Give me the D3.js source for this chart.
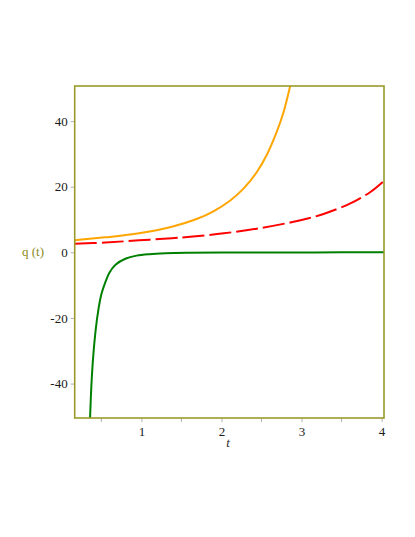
<!DOCTYPE html>
<html>
<head>
<meta charset="utf-8">
<script src="https://cdn.jsdelivr.net/npm/d3@7"></script>
<style>
  body { margin: 0; background: #fff; }
  svg { display: block; }
  svg text { font-family: "Liberation Serif", "Times New Roman", "DejaVu Serif", serif; }
</style>
</head>
<body>
<div id="chart-area"></div>
<script>
// values
const tTicks = [1, 2, 3, 4];
const tMinorTicks = [0.5, 1.5, 2.5, 3.5];
const qTicks = [-40, -20, 0, 20, 40];
const qTickLabels = ["-40", "-20", "0", "20", "40"];

const greenT = [0.359, 0.37, 0.38, 0.40, 0.43, 0.46, 0.50, 0.55, 0.60, 0.68, 0.80, 0.94, 1.1, 1.3, 1.6, 2.0, 2.5, 3.0, 3.5, 4.03];
const greenQ = [-50.5, -43.5, -38.5, -31.2, -23.4, -17.9, -12.8, -9.1, -6.2, -3.7, -1.95, -1.0, -0.55, -0.3, -0.15, -0.06, -0.03, -0.02, -0.01, -0.01];

const orangeT = [0.167, 0.55, 0.97, 1.38, 1.69, 1.90, 2.11, 2.275, 2.44, 2.57, 2.69, 2.775, 2.86];
const orangeQ = [3.66, 4.57, 5.8, 7.8, 10.15, 12.5, 15.8, 19.4, 24.4, 29.9, 36.7, 42.7, 50.9];

const redT = [0.167, 0.55, 0.97, 1.38, 1.61, 2.03, 2.44, 2.86, 3.09, 3.275, 3.61, 3.86, 4.03];
const redQ = [2.6, 3.0, 3.65, 4.3, 4.75, 5.8, 7.2, 9.1, 10.4, 11.7, 14.9, 18.4, 21.8];

const drawGraph = () => {
  const width = 415;
  const height = 537;
  const frame = { left: 74.7, right: 384, top: 86, bottom: 418 };
  const frameColor = "#9a9a2a";
  const serif = "'Liberation Serif', 'Times New Roman', 'DejaVu Serif', serif";

  const svg = d3.select("#chart-area")
                .append("svg")
                .attr("width", width)
                .attr("height", height);

  const tScale = d3.scaleLinear()
                   .domain([0.167, 4.03])
                   .range([frame.left, frame.right]);

  const qScale = d3.scaleLinear()
                   .domain([-50.5, 50.7])
                   .range([frame.bottom, frame.top]);

  svg.append("clipPath")
     .attr("id", "plot-clip")
     .append("rect")
     .attr("x", frame.left)
     .attr("y", frame.top)
     .attr("width", frame.right - frame.left)
     .attr("height", frame.bottom - frame.top);

  // x axis: major ticks with labels, minor ticks without
  const axisX = d3.axisBottom(tScale)
                  .tickValues(tTicks)
                  .tickFormat(d3.format("d"))
                  .tickSize(4)
                  .tickPadding(5);

  const gx = svg.append("g")
                .attr("id", "x-axis")
                .attr("transform", "translate(0," + frame.bottom + ")")
                .call(axisX);

  gx.selectAll("line.minor")
    .data(tMinorTicks)
    .enter()
    .append("line")
    .attr("class", "minor")
    .attr("x1", d => tScale(d))
    .attr("x2", d => tScale(d))
    .attr("y1", 0)
    .attr("y2", 4)
    .attr("stroke", "#b0b0b0");

  const axisY = d3.axisLeft(qScale)
                  .tickValues(qTicks)
                  .tickFormat((d, i) => qTickLabels[i])
                  .tickSize(4)
                  .tickPadding(3);

  const gy = svg.append("g")
                .attr("id", "y-axis")
                .attr("transform", "translate(" + frame.left + ",0)")
                .call(axisY);

  [gx, gy].forEach(g => {
    g.attr("font-family", serif);
    g.select(".domain").remove();
    g.selectAll(".tick line").attr("stroke", "#b0b0b0");
    g.selectAll(".tick text")
     .attr("fill", "#1a1a1a")
     .attr("font-family", serif)
     .attr("font-size", 13);
  });

  const line = d3.line()
                 .x(d => tScale(d[0]))
                 .y(d => qScale(d[1]))
                 .curve(d3.curveCatmullRom.alpha(0.5));

  const plot = svg.append("g")
                  .attr("clip-path", "url(#plot-clip)");

  plot.append("path")
      .attr("d", line(d3.zip(greenT, greenQ)))
      .attr("fill", "none")
      .attr("stroke", "#008000")
      .attr("stroke-width", 2);

  plot.append("path")
      .attr("d", line(d3.zip(orangeT, orangeQ)))
      .attr("fill", "none")
      .attr("stroke", "#ffa500")
      .attr("stroke-width", 2);

  plot.append("path")
      .attr("d", line(d3.zip(redT, redQ)))
      .attr("fill", "none")
      .attr("stroke", "#ff0000")
      .attr("stroke-width", 2)
      .attr("stroke-dasharray", "22,5");

  // frame
  svg.append("rect")
     .attr("x", frame.left)
     .attr("y", frame.top)
     .attr("width", frame.right - frame.left)
     .attr("height", frame.bottom - frame.top)
     .attr("fill", "none")
     .attr("stroke", frameColor)
     .attr("stroke-width", 1.6);

  svg.append("text")
     .attr("text-anchor", "middle")
     .attr("x", 228)
     .attr("y", 447)
     .attr("font-family", serif)
     .attr("font-style", "italic")
     .attr("font-size", 13)
     .attr("fill", "#2a2a2a")
     .text("t");

  svg.append("text")
     .attr("text-anchor", "start")
     .attr("x", 22)
     .attr("y", 256)
     .attr("font-family", serif)
     .attr("font-size", 13)
     .attr("fill", "#8b8b22")
     .text("q (t)");
};

drawGraph();
</script>
</body>
</html>
